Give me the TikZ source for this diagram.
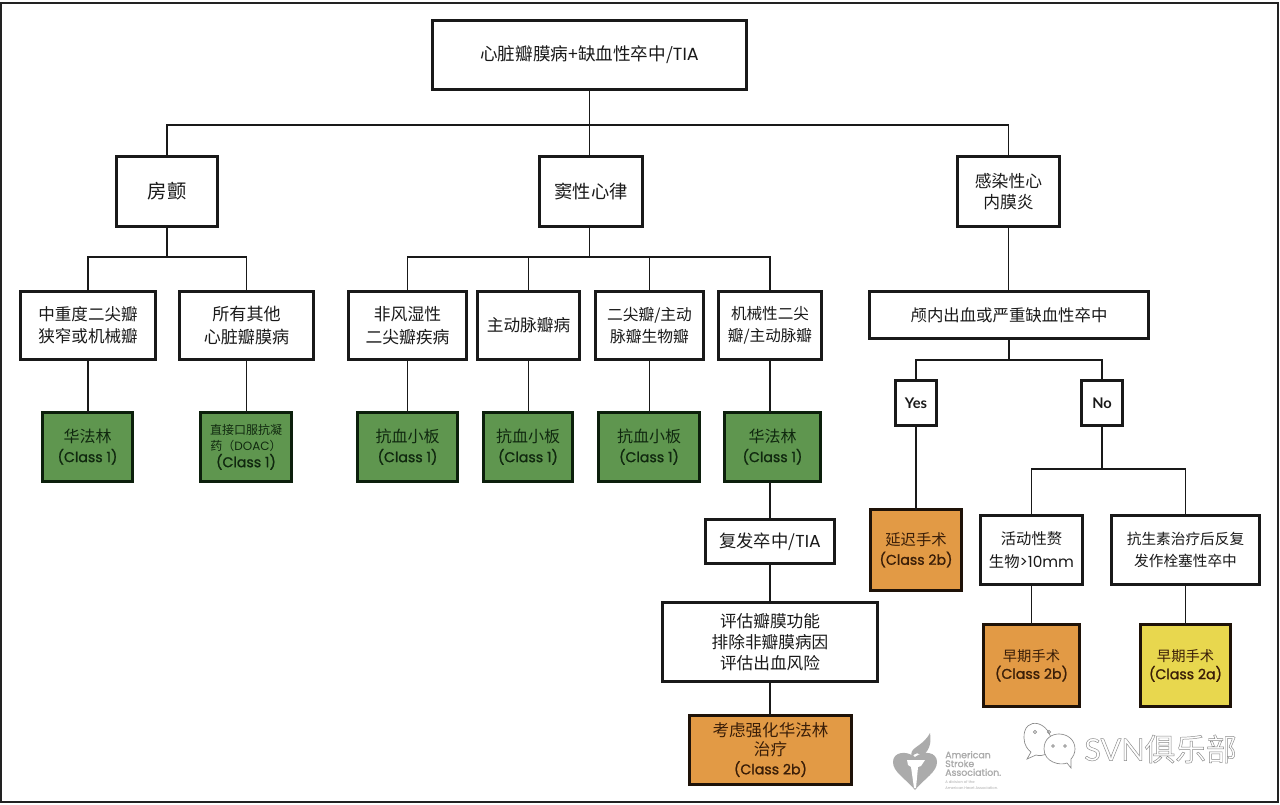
\documentclass[tikz,border=0pt]{standalone}
\usepackage{fontspec}
\setmainfont{Noto Sans CJK SC}
\newfontfamily\pop{Poppins}
\newfontfamily\popm[FakeBold=1.2]{Poppins}
\newfontfamily\lato{Lato}
\definecolor{frameK}{HTML}{222222}
\definecolor{greenF}{HTML}{5F964F}
\definecolor{greenK}{HTML}{0C1F0C}
\definecolor{greenT}{HTML}{10280F}
\definecolor{orangeF}{HTML}{E29A45}
\definecolor{orangeK}{HTML}{1E1208}
\definecolor{orangeT}{HTML}{3A1E08}
\definecolor{yellowF}{HTML}{E8D74E}
\definecolor{logoG}{HTML}{ABABAB}
\definecolor{markG}{HTML}{8A8A8A}
\newcommand{\fz}[2]{\fontsize{#1}{#2}\selectfont\lineskiplimit=-20pt\relax}
\tikzset{
  basebox/.style={rectangle,draw,line width=2.25pt,inner sep=0pt,outer sep=0pt,align=center},
  plainbox/.style={basebox,draw=black!90,fill=white,text=black!90,font=\fz{12}{17}},
  greenbox/.style={basebox,draw=greenK,fill=greenF,text=greenT,font=\fz{12}{14.5}},
  orangebox/.style={basebox,draw=orangeK,fill=orangeF,text=orangeT,font=\fz{11.5}{14.5}},
  yellowbox/.style={basebox,draw=orangeK,fill=yellowF,text=orangeT,font=\fz{11.5}{14.5}},
  conn/.style={draw=black!90,line width=1.35pt},
  logotext/.style={inner sep=0pt,anchor=west,text=logoG,align=left}
}
\newcommand{\cls}[1]{{\popm\fontsize{10.6}{14}\selectfont(Class #1)}}
\newcommand{\smtxt}[1]{{\fontsize{9}{12}\selectfont #1}}
\newcommand{\bx}[7]{%
  \pgfmathsetmacro{\bxw}{(#4-#2-3)*0.75}%
  \pgfmathsetmacro{\bxh}{(#5-#3-3)*0.75}%
  \node[#6,minimum width=\bxw pt,minimum height=\bxh pt] (#1) at ({(#2+#4)/2},{(#3+#5)/2}) {#7};%
}
\begin{document}
\begin{tikzpicture}[x=0.75pt,y=-0.75pt]
\useasboundingbox (0,0) rectangle (1280,805);
\fill[white] (0,0) rectangle (1280,805);
\draw[frameK,line width=2pt] (1,3) rectangle (1278,802);

\bx{top}{431}{19}{748}{91}{plainbox,font=\fz{13.2}{16}}{心脏瓣膜病+缺血性卒中/{\pop TIA}}
\bx{af}{115}{155}{219}{228}{plainbox,font=\fz{14.5}{17}}{房颤}
\bx{sinus}{538}{155}{644}{228}{plainbox,font=\fz{13.7}{17}}{窦性心律}
\bx{endo}{956}{155}{1061}{228}{plainbox,font=\fz{12.6}{16}}{感染性心\\内膜炎}
\bx{mod}{19}{290}{157}{361}{plainbox,font=\fz{12.4}{16.5}}{中重度二尖瓣\\狭窄或机械瓣}
\bx{other}{178}{290}{315}{361}{plainbox,font=\fz{12.8}{17}}{所有其他\\心脏瓣膜病}
\bx{nonr}{347}{290}{468}{361}{plainbox,font=\fz{12.6}{17}}{非风湿性\\二尖瓣疾病}
\bx{aort}{476}{290}{581}{361}{plainbox,font=\fz{12.5}{17}}{主动脉瓣病}
\bx{bio}{594}{290}{705}{361}{plainbox,font=\fz{11.8}{16.5}}{二尖瓣/主动\\脉瓣生物瓣}
\bx{mech}{717}{290}{823}{361}{plainbox,font=\fz{11.7}{16}}{机械性二尖\\瓣/主动脉瓣}
\bx{g1}{41}{411}{134}{483}{greenbox}{华法林\\\cls{1}}
\bx{g2}{199}{411}{293}{483}{greenbox,font=\fz{11.5}{12.3}}{\smtxt{直接口服抗凝}\\\smtxt{药（{\pop DOAC}）}\\\cls{1}}
\bx{g3}{356}{411}{459}{483}{greenbox}{抗血小板\\\cls{1}}
\bx{g4}{482}{411}{574}{483}{greenbox}{抗血小板\\\cls{1}}
\bx{g5}{597}{411}{701}{483}{greenbox}{抗血小板\\\cls{1}}
\bx{g6}{723}{411}{822}{483}{greenbox}{华法林\\\cls{1}}
\bx{recur}{704}{518}{836}{565}{plainbox,font=\fz{13}{17}}{复发卒中/{\pop TIA}}
\bx{eval}{661}{601}{879}{683}{plainbox,font=\fz{12.5}{15.8}}{评估瓣膜功能\\排除非瓣膜病因\\评估出血风险}
\bx{inr}{688}{714}{853}{786}{orangebox,font=\fz{12.4}{14}}{考虑强化华法林\\治疗\\\cls{2b}}
\bx{ich}{868}{290}{1150}{340}{plainbox,font=\fz{12.3}{17}}{颅内出血或严重缺血性卒中}
\bx{yes}{894}{379}{938}{427}{plainbox}{{\lato\bfseries\fontsize{11}{14}\selectfont Yes}}
\bx{no}{1080}{379}{1124}{427}{plainbox}{{\lato\bfseries\fontsize{11}{14}\selectfont No}}
\bx{delay}{869}{508}{963}{592}{orangebox}{延迟手术\\\cls{2b}}
\bx{veg}{979}{514}{1084}{586}{plainbox,font=\fz{11.5}{17}}{活动性赘\\生物{\pop >10mm}}
\bx{abx}{1110}{514}{1261}{586}{plainbox,font=\fz{11}{17}}{抗生素治疗后反复\\发作栓塞性卒中}
\bx{early}{982}{623}{1081}{708}{orangebox,font=\fz{10.7}{13}}{早期手术\\\cls{2b}}
\bx{earlya}{1139}{623}{1232}{708}{yellowbox,font=\fz{10.7}{13.5}}{早期手术\\\cls{2a}}

% connectors
\draw[conn] (top.south) -- ++(0,35.5) -| (af.north);
\draw[conn] (top.south) -- (top.south |- sinus.north);
\draw[conn] (top.south) -- ++(0,35.5) -| (endo.north);
\draw[conn] (top.south |- sinus.south) -- ++(0,30.5) -| (nonr.north);
\draw[conn] (top.south |- sinus.south) -- ++(0,30.5) -| (aort.north);
\draw[conn] (top.south |- sinus.south) -- ++(0,30.5) -| (bio.north);
\draw[conn] (top.south |- sinus.south) -- ++(0,30.5) -| (mech.north);
\draw[conn] (af.south) -- ++(0,30.5) -| (mod.north);
\draw[conn] (af.south) -- ++(0,30.5) -| (other.north);
\draw[conn] (mod.south) -- (mod.south |- g1.north);
\draw[conn] (other.south) -- (other.south |- g2.north);
\draw[conn] (nonr.south) -- (nonr.south |- g3.north);
\draw[conn] (aort.south) -- (aort.south |- g4.north);
\draw[conn] (bio.south) -- (bio.south |- g5.north);
\draw[conn] (mech.south) -- (mech.south |- g6.north);
\draw[conn] (mech.south |- g6.south) -- (mech.south |- recur.north);
\draw[conn] (mech.south |- recur.south) -- (mech.south |- eval.north);
\draw[conn] (mech.south |- eval.south) -- (mech.south |- inr.north);
\draw[conn] (endo.south) -- (endo.south |- ich.north);
\draw[conn] (ich.south) -- ++(0,21.5) -| (yes.north);
\draw[conn] (ich.south) -- ++(0,21.5) -| (no.north);
\draw[conn] (yes.south) -- (yes.south |- delay.north);
\draw[conn] (no.south) -- ++(0,43.5) -| (veg.north);
\draw[conn] (no.south) -- ++(0,43.5) -| (abx.north);
\draw[conn] (veg.south) -- (veg.south |- early.north);
\draw[conn] (abx.south) -- (abx.south |- earlya.north);

% logo
\fill[logoG] (915,790) .. controls (905,778) and (893,772) .. (893,762)
  .. controls (893,752) and (906,750) .. (915,757)
  .. controls (924,750) and (937,752) .. (937,762)
  .. controls (937,772) and (925,778) .. (915,790) -- cycle;
\fill[white] (907,760) -- (925,760) -- (921,766) -- (918,767) -- (916,788) -- (914,788) -- (911,767) -- (908,765) -- cycle;
\fill[logoG] (912,757) .. controls (908,747) and (922,748) .. (930,733)
  .. controls (932,745) and (928,752) .. (921,757) .. controls (920,752) and (915,752) .. (912,757) -- cycle;
\node[logotext,font=\fz{7}{6.6}\popm] (aha) at (945,763.5) {American\\Stroke\\Association.};
\node[logotext,font=\fz{2.8}{5}\pop] (ahb) at (945,785) {A division of the\\American Heart Association.};

% watermark
\begin{scope}[markG,line width=0.5pt]
\draw[fill=white] (1052,746) .. controls (1052,720) and (1023,715) .. (1024,738)
  .. controls (1024,745) and (1028,750) .. (1031,752) -- (1027,759) -- (1036,755)
  .. controls (1042,757) and (1052,754) .. (1052,746) -- cycle;
\draw[fill=white] (1075,749) .. controls (1075,730) and (1044,728) .. (1044,749)
  .. controls (1044,762) and (1060,766) .. (1067,763) -- (1071,768) -- (1071,759)
  .. controls (1073,757) and (1075,753) .. (1075,749) -- cycle;
\draw (1035,732) circle (1.6) (1049,732) circle (1.6) (1053,746) circle (1.4) (1065,746) circle (1.4);
\end{scope}
\node[inner sep=0pt,anchor=west,text=markG,font=\fontsize{23}{26}\selectfont] (mark) at (1084,749)
  {\special{pdf:code 1 Tr 0.35 w}{\lato SVN}俱乐部\special{pdf:code 0 Tr 1 w}};
\end{tikzpicture}
\end{document}
